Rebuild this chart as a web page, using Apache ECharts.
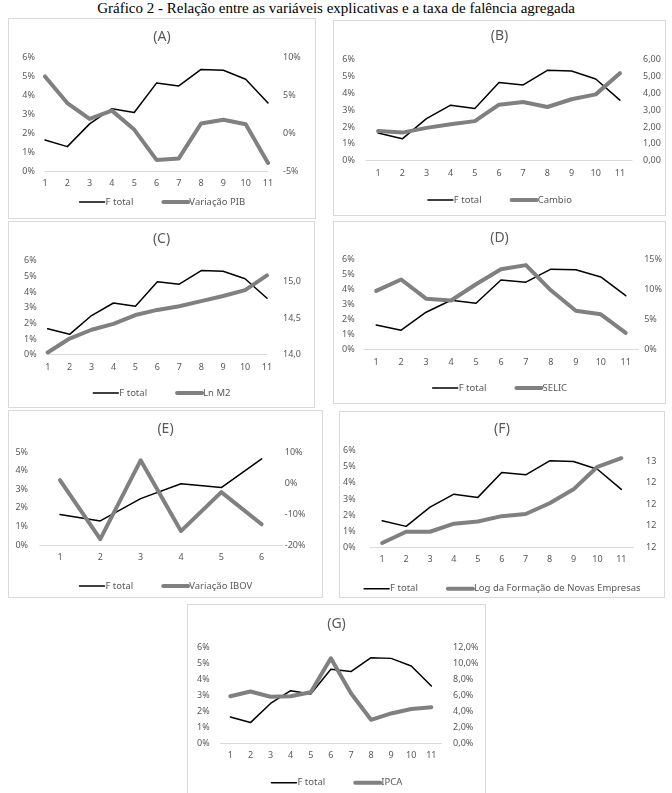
<!DOCTYPE html>
<html><head><meta charset="utf-8">
<script src="https://cdn.jsdelivr.net/npm/echarts@6/dist/echarts.min.js"></script>
<style>
body{margin:0;width:672px;height:793px;position:relative;overflow:hidden;background:#fff;}
#maintitle{position:absolute;left:0;top:0;width:672px;text-align:center;font-family:'Liberation Serif','Times New Roman',serif;font-size:15px;line-height:17px;color:#000;}
.panel{position:absolute;border:1px solid #d9d9d9;box-sizing:border-box;background:#fff;}
</style></head>
<body>
<div id="maintitle">Gráfico 2 - Relação entre as variáveis explicativas e a taxa de falência agregada</div>
<div id="pA" class="panel"></div>
<div id="pB" class="panel"></div>
<div id="pC" class="panel"></div>
<div id="pD" class="panel"></div>
<div id="pE" class="panel"></div>
<div id="pF" class="panel"></div>
<div id="pG" class="panel"></div>
<script>
// ---- data ----
const categories11 = ['1','2','3','4','5','6','7','8','9','10','11'];
const categories6 = ['1','2','3','4','5','6'];
const fTotal = [1.65, 1.3, 2.5, 3.3, 3.1, 4.65, 4.5, 5.37, 5.33, 4.85, 3.6];
const fTotal6 = fTotal.slice(0, 6);
const variacaoPIB = [7.5, 4.0, 1.9, 3.0, 0.5, -3.5, -3.3, 1.3, 1.8, 1.2, -3.9];
const cambio = [1.76, 1.67, 1.95, 2.16, 2.35, 3.33, 3.49, 3.19, 3.65, 3.94, 5.2];
const lnM2 = [14.03, 14.22, 14.34, 14.42, 14.54, 14.61, 14.66, 14.73, 14.80, 14.88, 15.08];
const selic = [9.8, 11.7, 8.5, 8.2, 10.9, 13.4, 14.1, 9.9, 6.5, 5.9, 2.8];
const variacaoIBOV = [1.0, -18.1, 7.4, -15.5, -2.9, -13.3];
const logNovasEmpresas = [11.84, 11.945, 11.945, 12.02, 12.04, 12.09, 12.11, 12.21, 12.34, 12.55, 12.63];
const ipca = [5.91, 6.50, 5.84, 5.91, 6.41, 10.67, 6.29, 2.95, 3.75, 4.31, 4.52];

// ---- formatters ----
const pct = v => v + '%';
const comma2 = v => v.toFixed(2).replace('.', ',');
const comma1Half = v => (Math.abs(v * 2 - Math.round(v * 2)) > 1e-6) ? '' : v.toFixed(1).replace('.', ',');
const roundInt = v => (v > 12.65) ? '' : String(Math.round(v));
const comma1Pct = v => v.toFixed(1).replace('.', ',') + '%';

// ---- panels (layout) ----
const panels = [
  {el:'pA', box:[8,18,308,201], title:'(A)', cats:categories11, left:fTotal, leftMax:6,
   right:variacaoPIB, rName:'Variação PIB', rMin:-5, rMax:10, rInt:5, rFmt:pct,
   grid:{left:36,right:47,top:38.5,bottom:46.7}, bg:false, lm:10, rm:15, titleY:11, legendY:178},
  {el:'pB', box:[333,20,333,196], title:'(B)', cats:categories11, left:fTotal, leftMax:6,
   right:cambio, rName:'Cambio', rMin:0, rMax:6, rInt:1, rFmt:comma2,
   grid:{left:32,right:33,top:38.7,bottom:54.3}, bg:true, lm:11, rm:11, titleY:8, legendY:174},
  {el:'pC', box:[8,221,307,187], title:'(C)', cats:categories11, left:fTotal, leftMax:6,
   right:lnM2, rName:'Ln M2', rMin:14, rMax:15.28, rInt:0.5, rFmt:comma1Half,
   grid:{left:38.7,right:47,top:38.7,bottom:52.3}, bg:false, lm:11, rm:16, titleY:10, legendY:166},
  {el:'pD', box:[333,221,333,183], title:'(D)', cats:categories11, left:fTotal, leftMax:6,
   right:selic, rName:'SELIC', rMin:0, rMax:15, rInt:5, rFmt:pct,
   grid:{left:29.7,right:22.7,top:37.7,bottom:53.3}, bg:true, lm:9, rm:6, titleY:9, legendY:161},
  {el:'pE', box:[8,410,315,188], title:'(E)', cats:categories6, left:fTotal6, leftMax:5,
   right:variacaoIBOV, rName:'Variação IBOV', rMin:-20, rMax:10, rInt:10, rFmt:pct,
   grid:{left:30.8,right:40.2,top:41.3,bottom:52}, bg:true, lm:11.7, rm:3, titleY:11, legendY:170},
  {el:'pF', box:[339,411,326,187], title:'(F)', cats:categories11, left:fTotal, leftMax:6,
   right:logNovasEmpresas, rName:'Log da Formação de Novas Empresas', rMin:11.8, rMax:12.7, rInt:0.2, rFmt:roundInt,
   grid:{left:29.3,right:30.7,top:38.7,bottom:49.7}, bg:true, lm:14.6, rm:12.7, titleY:10, legendY:171.7},
  {el:'pG', box:[187,604,299,190], title:'(G)', cats:categories11, left:fTotal, leftMax:6,
   right:ipca, rName:'IPCA', rMin:0, rMax:12, rInt:2, rFmt:comma1Pct,
   grid:{left:32.3,right:43.6,top:42.7,bottom:49.7}, bg:true, lm:10.6, rm:11.7, titleY:12, legendY:172.7}
];

const FONT = "'Noto Sans', 'Open Sans', sans-serif";
const GREY_TXT = '#595959';
const HIDDEN_SYMBOL = {color: 'rgba(0,0,0,0)', borderWidth: 0, opacity: 0};

panels.forEach(p => {
  const div = document.getElementById(p.el);
  div.style.left = p.box[0] + 'px';
  div.style.top = p.box[1] + 'px';
  div.style.width = p.box[2] + 'px';
  div.style.height = p.box[3] + 'px';
  const chart = echarts.init(div, null, {renderer: 'canvas'});
  const axisLabelBase = {color: GREY_TXT, fontFamily: FONT, fontSize: 9};
  chart.setOption({
    animation: false,
    title: {text: p.title, left: 'center', top: p.titleY, padding: 0,
      textStyle: {color: GREY_TXT, fontFamily: FONT, fontSize: 14, fontWeight: 'normal'}},
    legend: {
      top: p.legendY, left: 'center', itemWidth: 25, itemHeight: 10, itemGap: 28, padding: 0,
      textStyle: {color: GREY_TXT, fontFamily: FONT, fontSize: 9.5, padding: [0, 0, 0, -4]},
      itemStyle: HIDDEN_SYMBOL,
      data: [
        {name: 'F total', lineStyle: {width: 1.5, color: '#000'}, itemStyle: HIDDEN_SYMBOL},
        {name: p.rName, lineStyle: {width: 4, color: '#808080'}, itemStyle: HIDDEN_SYMBOL}
      ]
    },
    grid: Object.assign({containLabel: false}, p.grid),
    xAxis: {
      type: 'category', data: p.cats, boundaryGap: p.bg,
      axisLine: {lineStyle: {color: '#d9d9d9', width: 1}},
      axisTick: {show: false},
      axisLabel: Object.assign({margin: 8, interval: 0}, axisLabelBase)
    },
    yAxis: [
      {type: 'value', min: 0, max: p.leftMax, interval: 1,
       splitLine: {show: false}, axisLine: {show: false}, axisTick: {show: false},
       axisLabel: Object.assign({margin: p.lm, formatter: pct}, axisLabelBase)},
      {type: 'value', min: p.rMin, max: p.rMax, interval: p.rInt, position: 'right',
       splitLine: {show: false}, axisLine: {show: false}, axisTick: {show: false},
       axisLabel: Object.assign({margin: p.rm, formatter: p.rFmt}, axisLabelBase)}
    ],
    series: [
      {name: 'F total', type: 'line', yAxisIndex: 0, data: p.left, symbol: 'none',
       lineStyle: {color: '#000', width: 1.5, cap: 'round', join: 'round'}, itemStyle: {color: '#000'}},
      {name: p.rName, type: 'line', yAxisIndex: 1, data: p.right, symbol: 'none',
       lineStyle: {color: '#808080', width: 4, cap: 'round', join: 'round'}, itemStyle: {color: '#808080'}}
    ]
  });
});
</script>
</body></html>
